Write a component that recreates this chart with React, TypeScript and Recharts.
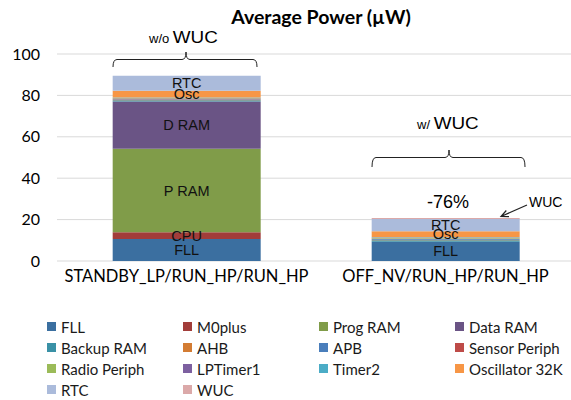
import React from 'react';
import { BarChart, Bar, XAxis, YAxis, CartesianGrid, Legend, LabelList } from 'recharts';

// operating modes (x categories)
const categories = ['STANDBY_LP/RUN_HP/RUN_HP', 'OFF_NV/RUN_HP/RUN_HP'];

// average power per block, µW (w/o WUC, w/ WUC)
const fll = [10.6, 9.3];
const m0plus = [3.3, 0];
const progRam = [40.3, 0];
const dataRam = [22.9, 0];
const backupRam = [0.6, 0.7];
const ahb = [0.2, 0.3];
const apb = [0.3, 0.4];
const sensorPeriph = [0.2, 0.2];
const radioPeriph = [0.2, 0.2];
const lpTimer1 = [0.1, 0.1];
const timer2 = [0.3, 0.3];
const osc32k = [3.2, 2.9];
const rtc = [7.3, 5.9];
const wuc = [0, 0.5];

const yTicks = [0, 20, 40, 60, 80, 100];

const series = [
  { key: 'fll', name: 'FLL', values: fll, color: '#3b6fa0', short: 'FLL' },
  { key: 'm0plus', name: 'M0plus', values: m0plus, color: '#a23d3a', short: 'CPU' },
  { key: 'progRam', name: 'Prog RAM', values: progRam, color: '#809c49', short: 'P RAM' },
  { key: 'dataRam', name: 'Data RAM', values: dataRam, color: '#6a5485', short: 'D RAM' },
  { key: 'backupRam', name: 'Backup RAM', values: backupRam, color: '#3a91a6', short: '' },
  { key: 'ahb', name: 'AHB', values: ahb, color: '#d37c33', short: '' },
  { key: 'apb', name: 'APB', values: apb, color: '#4a7ebb', short: '' },
  { key: 'sensorPeriph', name: 'Sensor Periph', values: sensorPeriph, color: '#be4b48', short: '' },
  { key: 'radioPeriph', name: 'Radio Periph', values: radioPeriph, color: '#9bbb59', short: '' },
  { key: 'lpTimer1', name: 'LPTimer1', values: lpTimer1, color: '#7d60a0', short: '' },
  { key: 'timer2', name: 'Timer2', values: timer2, color: '#4bacc6', short: '' },
  { key: 'osc32k', name: 'Oscillator 32K', values: osc32k, color: '#f79646', short: 'Osc' },
  { key: 'rtc', name: 'RTC', values: rtc, color: '#abbbdb', short: 'RTC' },
  { key: 'wuc', name: 'WUC', values: wuc, color: '#dba9a9', short: '' },
];

const data = categories.map((name, i) => {
  const row: any = { name };
  series.forEach((s) => { row[s.key] = s.values[i]; });
  return row;
});

const CALIBRI = 'Lato, "Open Sans", sans-serif';
const ARIAL = '"Liberation Sans", Arial, sans-serif';

const segmentLabel = (text: string) => (props: any) => {
  const { x, y, width, height, value } = props;
  if (!text || !value || value < 2.5) return null;
  return (
    <text
      x={x + width / 2}
      y={y + height / 2}
      textAnchor="middle"
      dominantBaseline="central"
      fontFamily={ARIAL}
      fontSize={14.5}
      fill="#111"
    >
      {text}
    </text>
  );
};

// legend keeps the series order (recharts would sort it by name)
const renderLegend = () => (
  <div
    style={{
      display: 'grid',
      gridTemplateColumns: 'repeat(4, 136px)',
      paddingLeft: 47,
      fontFamily: CALIBRI,
      fontSize: 15,
      color: '#1a1a1a',
    }}
  >
    {series.map((s) => (
      <div key={s.key} style={{ height: 21, display: 'flex', alignItems: 'center', whiteSpace: 'nowrap' }}>
        <span style={{ width: 9, height: 9, background: s.color, marginRight: 5, display: 'inline-block' }} />
        {s.name}
      </div>
    ))}
  </div>
);

export default function App() {
  return (
    <div style={{ position: 'absolute', left: 0, top: 0, width: 571, height: 400, overflow: 'hidden', background: '#fff' }}>
      <BarChart
        width={575}
        height={400}
        data={data}
        margin={{ top: 54, right: 0, left: 0, bottom: 0 }}
        barCategoryGap="21.5%"
      >
        <CartesianGrid stroke="#d9d9d9" vertical={false} />
        <XAxis
          dataKey="name"
          axisLine={false}
          tickLine={false}
          tickSize={0}
          tickMargin={9}
          height={55}
          interval={0}
          tick={{ fill: '#000', fontSize: 16.5, fontFamily: CALIBRI }}
        />
        <YAxis
          domain={[0, 100]}
          ticks={yTicks}
          axisLine={false}
          tickLine={false}
          tickSize={0}
          tickMargin={17}
          width={57}
          tick={{ fill: '#000', fontSize: 16, fontFamily: CALIBRI }}
        />
        <Legend
          verticalAlign="bottom"
          content={renderLegend}
          wrapperStyle={{ left: 0, width: 571 }}
        />
        {series.map((s) => (
          <Bar key={s.key} dataKey={s.key} name={s.name} stackId="a" fill={s.color} isAnimationActive={false}>
            {s.short ? <LabelList dataKey={s.key} content={segmentLabel(s.short)} /> : null}
          </Bar>
        ))}
      </BarChart>

      {/* title and annotations */}
      <svg width={571} height={400} style={{ position: 'absolute', left: 0, top: 0, pointerEvents: 'none' }}>
        <text x={321} y={24} textAnchor="middle" fontFamily={CALIBRI} fontWeight="bold" fontSize={19.5} fill="#000">
          Average Power (µW)
        </text>

        <text x={149} y={43} fontFamily={ARIAL} fill="#000">
          <tspan fontSize={13}>w/o </tspan>
          <tspan fontSize={16} textLength={45} lengthAdjust="spacingAndGlyphs">WUC</tspan>
        </text>
        <path d="M113,67 Q113,59.5 117,59.5 L182,59.5 Q186,59.5 186,52 Q186,59.5 190,59.5 L253,59.5 Q257,59.5 257,67" fill="none" stroke="#222" strokeWidth={1} />

        <text x={417} y={129} fontFamily={ARIAL} fill="#000">
          <tspan fontSize={13}>w/ </tspan>
          <tspan fontSize={16} textLength={45} lengthAdjust="spacingAndGlyphs">WUC</tspan>
        </text>
        <path d="M372,167 Q372,157.5 376,157.5 L445,157.5 Q449,157.5 449,150 Q449,157.5 453,157.5 L521,157.5 Q525,157.5 525,167" fill="none" stroke="#222" strokeWidth={1} />

        <text x={448} y={208} textAnchor="middle" fontFamily={ARIAL} fontSize={18} fill="#000">-76%</text>

        <text x={529} y={207} fontFamily={ARIAL} fontSize={14} fill="#000">WUC</text>
        <path d="M527,205 L501,216.5 M509,216.7 L501,216.5 L506.3,210.5" fill="none" stroke="#222" strokeWidth={1.2} />
      </svg>
    </div>
  );
}
